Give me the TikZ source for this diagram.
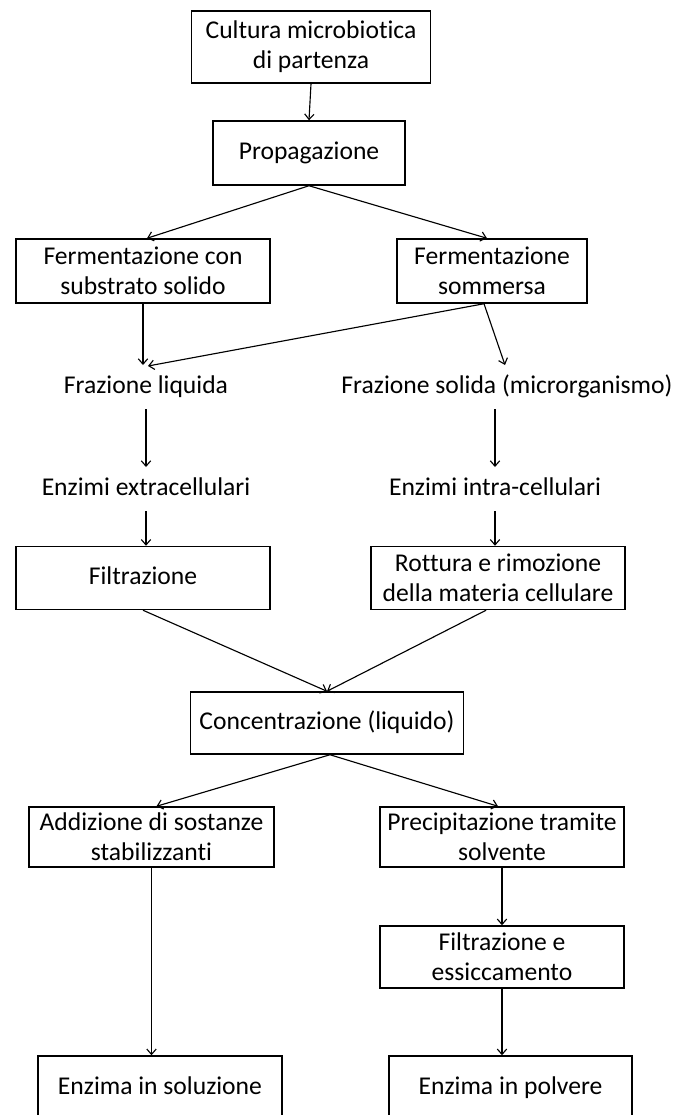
\documentclass[tikz,border=0pt]{standalone}
\usepackage{fontspec}
\setmainfont{Carlito}[Ligatures={NoCommon}]
\usetikzlibrary{arrows.meta,calc}
\begin{document}
\begin{tikzpicture}[x=0.75pt,y=-0.75pt,
  txt/.style={font=\fontsize{19.2pt}{22.6pt}\selectfont,align=center,text=black},
  stepbox/.style={txt,draw=black,line width=1.1pt,rectangle,inner sep=0pt},
  onerow/.style={text height=13.8pt,text depth=3.8pt},
  wh/.style 2 args={minimum width=#1*0.75pt,minimum height=#2*0.75pt},
  flowtext/.style={txt,onerow,inner xsep=0pt,inner ysep=7.5pt},
  flow/.style={draw=black,line width=0.85pt,-{Straight Barb[length=4pt,width=7pt]}}
]
\clip (0,0) rectangle (673,1115);
\fill[white] (0,0) rectangle (673,1115);

% boxes and labels, top to bottom
\node[stepbox,wh={239}{72}] (cult) at (311,47) {Cultura microbiotica\\di partenza};
\node[stepbox,onerow,wh={192}{64}] (prop) at (309,153) {Propagazione};
\node[stepbox,wh={254}{64}] (fsol) at (143,271) {Fermentazione con\\substrato solido};
\node[stepbox,wh={190}{64}] (fsom) at (492,271) {Fermentazione\\sommersa};
\node[flowtext] (liq) at (146,387) {Frazione liquida};
\node[flowtext] (sol) at (507,387) {Frazione solida (microrganismo)};
\node[flowtext] (extra) at (146,489) {Enzimi extracellulari};
\node[flowtext] (intra) at (495,489) {Enzimi intra-cellulari};
\node[stepbox,onerow,wh={254}{63}] (filt) at (143,578) {Filtrazione};
\node[stepbox,wh={254}{63}] (rott) at (498,578) {Rottura e rimozione\\della materia cellulare};
\node[stepbox,onerow,wh={273}{62}] (conc) at (327,723) {Concentrazione (liquido)};
\node[stepbox,wh={245}{60}] (addz) at (151.5,837) {Addizione di sostanze\\stabilizzanti};
\node[stepbox,wh={244}{60}] (prec) at (502,837) {Precipitazione tramite\\solvente};
\node[stepbox,wh={244}{62}] (fess) at (502,957) {Filtrazione e\\essiccamento};
\node[stepbox,onerow,wh={244}{64}] (esol) at (160,1088) {Enzima in soluzione};
\node[stepbox,onerow,wh={243}{64}] (epol) at (510.5,1088) {Enzima in polvere};

% connectors
\draw[flow] (cult.south) -- (prop.north);
\draw[flow] (prop.south) -- ($(fsol.north)+(4,0)$);
\draw[flow] (prop.south) -- ($(fsom.north)+(-5,0)$);
\draw[flow] (fsol.south) -- (fsol.south |- liq.north);
\draw[flow] ($(fsom.south)+(-8,0)$) -- ($(liq.north)+(2,1)$);
\draw[flow] ($(fsom.south)+(-8,0)$) -- ($(sol.north)+(-2,0)$);
\draw[flow] (liq.south) -- (liq.south |- extra.north);
\draw[flow] (intra.north |- sol.south) -- (intra.north);
\draw[flow] (extra.south) -- (extra.south |- filt.north);
\draw[flow] (intra.south) -- (intra.south |- rott.north);
\draw[flow] (filt.south) -- (conc.north);
\draw[flow] ($(rott.south)+(-12,0)$) -- (conc.north);
\draw[flow] ($(conc.south)+(3,0)$) -- ($(addz.north)+(5,0)$);
\draw[flow] ($(conc.south)+(3,0)$) -- ($(prec.north)+(-4,0)$);
\draw[flow] (addz.south) -- (addz.south |- esol.north);
\draw[flow] (prec.south) -- (fess.north);
\draw[flow] (fess.south) -- (fess.south |- epol.north);
\end{tikzpicture}
\end{document}
